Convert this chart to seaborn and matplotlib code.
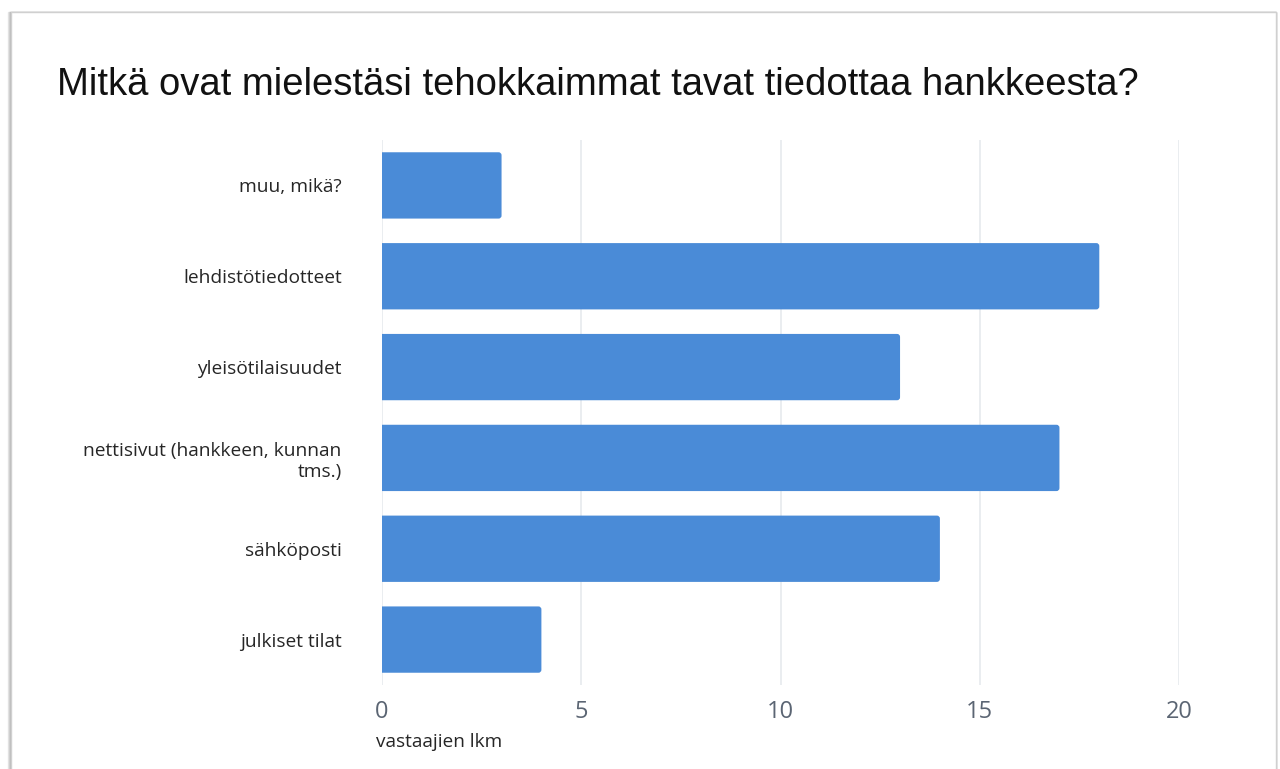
import matplotlib
matplotlib.use("Agg")
import matplotlib.pyplot as plt
from matplotlib.patches import Rectangle, FancyBboxPatch
import seaborn as sns
import pandas as pd

# Survey answers: most effective ways to inform about the project
categories = [
    "muu, mikä?",
    "lehdistötiedotteet",
    "yleisötilaisuudet",
    "nettisivut (hankkeen, kunnan\ntms.)",
    "sähköposti",
    "julkiset tilat",
]
counts = [3, 18, 13, 17, 14, 4]
x_ticks = [0, 5, 10, 15, 20]

title = "Mitkä ovat mielestäsi tehokkaimmat tavat tiedottaa hankkeesta?"
x_label = "vastaajien lkm"

df = pd.DataFrame({"vaihtoehto": categories, "lkm": counts})

sns.set_theme(style="white")
plt.rcParams["font.family"] = ["Open Sans", "DejaVu Sans"]

W, H = 1280, 769
BAR = "#4a8bd7"
fig = plt.figure(figsize=(W / 100, H / 100), dpi=100, facecolor="white")

# Card outline with a soft shadow on the left edge
for off, col in [(3, "#e6e6e6"), (2, "#d4d4d4"), (1, "#bdbdbd")]:
    fig.patches.append(Rectangle((11 / W - off / W, -0.05), (1276 - 11) / W + off / W, 1 - 12 / H + 0.05,
                                 transform=fig.transFigure, facecolor="none",
                                 edgecolor=col, linewidth=1.0, zorder=-2))
fig.patches.append(Rectangle((11 / W, -0.05), (1276 - 11) / W, 1 - 12 / H + 0.05,
                             transform=fig.transFigure, facecolor="white",
                             edgecolor="#d0d0d0", linewidth=1.0, zorder=-1))

ax = fig.add_axes([382 / W, 1 - 685 / H, (1179 - 382) / W, (685 - 140) / H])
ax.set_zorder(2)
ax.set_facecolor("none")

sns.barplot(data=df, x="lkm", y="vaihtoehto", orient="h", color=BAR,
            saturation=1, width=0.73, ax=ax, zorder=3)

ax.set_xlim(0, 20)
ax.set_xticks(x_ticks)
ax.set_xticklabels([str(t) for t in x_ticks])

# Round the outer (right) corners of each bar; the left rounding is
# pushed past x=0 where the axes clip it away
fig.canvas.draw()
px_x = ax.bbox.width / (ax.get_xlim()[1] - ax.get_xlim()[0])
ylim = ax.get_ylim()
px_y = ax.bbox.height / abs(ylim[1] - ylim[0])
radius = 3.0 / px_x
for p in list(ax.patches):
    x, y, w, h = p.get_x(), p.get_y(), p.get_width(), p.get_height()
    p.remove()
    ax.add_patch(FancyBboxPatch((x - 2 * radius, y), w + 2 * radius, h,
                                boxstyle=f"round,pad=0,rounding_size={radius}",
                                mutation_aspect=px_x / px_y,
                                facecolor=BAR, edgecolor="none", zorder=3,
                                clip_on=True))

ax.grid(axis="x", color="#e6eaee", linewidth=1.2, zorder=0)
ax.grid(axis="y", visible=False)
ax.set_axisbelow(True)
for s in ax.spines.values():
    s.set_visible(False)
ax.set_xlabel("")
ax.set_ylabel("")
ax.tick_params(axis="x", length=0, pad=11, labelsize=17, labelcolor="#5b6573")
ax.tick_params(axis="y", length=0, pad=29, labelsize=13.8, labelcolor="#262626")

fig.text(57 / W, 1 - 95 / H, title, fontsize=27.5, color="#111111",
         family=["Liberation Sans", "DejaVu Sans"], ha="left", va="baseline", zorder=3)
fig.text(376 / W, 1 - 742 / H, x_label, fontsize=13.7, color="#262626",
         ha="left", va="center", zorder=3)

fig.savefig("out.png", dpi=100, facecolor="white")
